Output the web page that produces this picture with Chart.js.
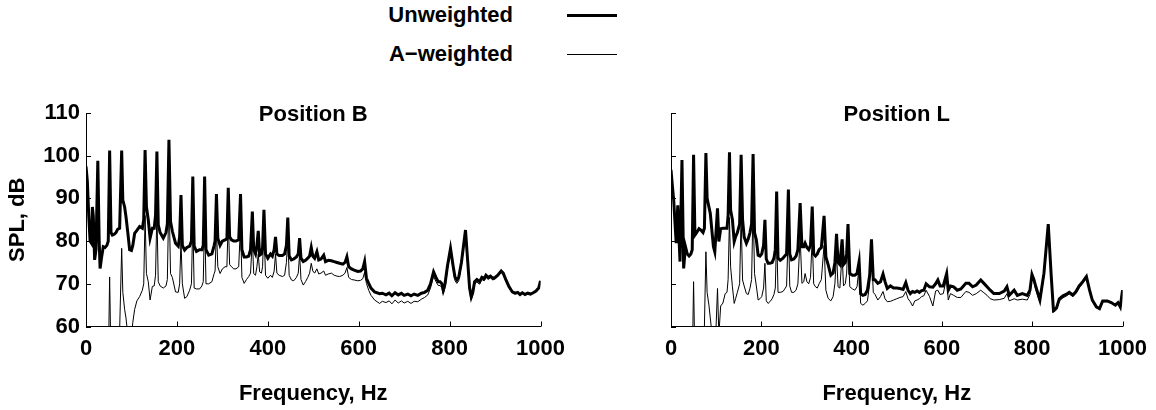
<!DOCTYPE html>
<html>
<head>
<meta charset="utf-8">
<script src="https://cdn.jsdelivr.net/npm/chart.js@4.4.1/dist/chart.umd.min.js"></script>
<style>
  html, body { margin: 0; padding: 0; background: #fff; }
  body { width: 1156px; height: 410px; position: relative; overflow: hidden;
         font-family: "Liberation Sans", Arial, sans-serif; font-weight: bold; font-size: 22px; color: #000; }
  canvas { position: absolute; top: 0; }
  #chartB { left: 0; }
  #chartL { left: 580px; }
  .leg-text { position: absolute; left: 0; width: 513px; text-align: right; line-height: 26px; }
  .leg-line { position: absolute; left: 567px; width: 50px; background: #000; }
</style>
</head>
<body>
<div class="leg-text" style="top:2px">Unweighted</div>
<div class="leg-line" style="top:14px;height:3px"></div>
<div class="leg-text" style="top:41px">A−weighted</div>
<div class="leg-line" style="top:54px;height:1px"></div>
<canvas id="chartB" width="580" height="410"></canvas>
<canvas id="chartL" width="576" height="410"></canvas>
<script>
// ---- tick values ----
const xTickValues = [0, 200, 400, 600, 800, 1000];
const yTickValues = [60, 70, 80, 90, 100, 110];

// ---- Position B ----
const freqB = [
  0, 3, 6, 9, 12, 14, 16, 19, 22, 26,
  29, 31, 34, 38, 42, 46, 49, 52, 55, 58,
  62, 66, 70, 74, 78.5, 81, 85, 88, 92, 96,
  100, 103, 107, 112, 118, 124, 127, 130, 133, 137,
  141, 146, 150, 153, 156, 159, 163, 170, 176, 179,
  182.5, 186, 190, 197, 203, 206, 209, 212, 217, 222,
  228, 232, 235, 238, 243, 250, 255, 258, 261, 264,
  270, 277, 282, 284, 287, 290, 295, 300, 306, 310,
  313, 316, 320, 325, 330, 336, 340, 343, 348, 353,
  358, 362, 366, 369, 373, 376, 379, 382, 386, 388.5,
  391.5, 395, 400, 406, 410, 414, 417, 420, 425, 432,
  437, 441, 444, 447, 452, 457, 463, 467, 470, 473,
  478, 483, 488, 492, 495.6, 499, 503, 508, 512, 517,
  523, 527, 533, 540, 546, 552, 558, 565, 570, 574,
  578, 584, 590, 598, 604, 609, 613, 617, 622, 627,
  635, 646, 652, 660, 667, 673, 680, 687, 694, 700,
  708, 715, 722, 730, 738, 745, 752, 758, 764.7, 770,
  775, 779, 783, 786, 790, 795, 802, 808, 812, 816,
  820, 826, 835, 840, 844, 847.6, 851, 855, 860, 866,
  871, 876, 880, 885, 890, 895, 900, 906, 913.5, 918,
  924, 930, 938, 944, 950, 955, 960, 966, 972, 978,
  984, 990, 996, 1000
];
const unweightedB = [
  97.5, 94, 86, 80, 79.5, 88, 86, 75.6, 78, 98.8,
  80, 73.6, 76, 78.7, 78.5, 79, 80, 101.2, 82, 81.4,
  81.6, 82, 82.8, 83, 101.2, 89.6, 88, 85.7, 82, 78,
  77.8, 79, 81.8, 82.5, 83.4, 83, 85, 101.3, 88, 85,
  80.7, 83, 83, 86, 101, 83.8, 82, 80.7, 82, 84,
  103.7, 84.6, 82.3, 79.5, 78.8, 81, 90.8, 79, 77.9, 78.5,
  78.8, 80, 95.1, 78.8, 77.6, 78, 78, 79, 95.1, 78,
  76.7, 77, 79, 80, 91, 80.7, 79, 80, 80.3, 80.5,
  92.5, 81, 80.3, 80, 80, 80.3, 91, 78, 76.3, 76.3,
  76.5, 78, 86.9, 78, 77, 79, 82.4, 76.7, 77, 78.5,
  87.3, 77, 76, 77, 76.5, 78, 81, 77, 76.6, 76.6,
  77, 79, 85.5, 76.5, 75.6, 75.8, 76.3, 77, 80.7, 76,
  75.2, 75.5, 76, 76.5, 78.5, 76.5, 76, 77.5, 75.6, 75.8,
  76.7, 75.2, 75.5, 75.4, 75.2, 75, 74.8, 74.6, 75, 76.3,
  74, 73.5, 73.2, 72.9, 73, 73.5, 75.2, 71.3, 70.1, 69,
  68.1, 67.7, 67.8, 67.4, 67.8, 67.2, 67.9, 67.4, 67.8, 67.3,
  67.6, 67.2, 67.6, 67.3, 67.8, 68, 68.5, 70, 72.8, 71.5,
  70.5, 70.5, 70, 68.5, 70, 74, 78.3, 74, 71.5, 70.9,
  71.5, 75, 82.6, 75, 69, 66.9, 68, 70.5, 71, 70.5,
  71.5, 71.2, 72, 71.5, 71.8, 71.3, 71.5, 72, 73, 72.5,
  70.9, 69.5, 68.1, 67.8, 68, 67.5, 67.9, 67.5, 67.8, 67.6,
  67.9, 68.3, 69, 70.7
];
const aWeightedB = [
  40, 40, 40, 40, 40, 40, 40, 40, 40, 54,
  40, 38, 40, 44, 46, 48, 50, 71.6, 52, 53,
  55, 56, 58, 59, 78.3, 68, 64, 62, 58, 55,
  58, 61, 64, 66, 67, 68.5, 70, 86, 72.4, 70.5,
  66.2, 69.4, 69.5, 72, 87, 70.5, 69.5, 69, 69.5, 71,
  91.5, 72.4, 71.5, 68.1, 68, 70, 80, 70, 66.6, 67,
  68.5, 70, 85, 69, 68.8, 68.8, 69.5, 70.5, 86, 70,
  70, 70.5, 72.4, 73, 83, 74, 72.4, 73.5, 74, 74,
  85, 74.5, 74, 73.5, 73.5, 74, 84, 71.5, 70.1, 71,
  71.7, 72.5, 80.5, 72.4, 72, 74, 77, 72.8, 72.5, 74,
  83, 72, 71.3, 72, 71.5, 73, 77, 72.5, 72, 71.7,
  72, 75, 81, 72, 70.9, 70.7, 71.5, 72.5, 77, 71,
  69.7, 70.5, 71.5, 72.5, 74.8, 73, 72.5, 73.5, 72.3, 72.5,
  73, 72, 72.3, 72.5, 72, 71.8, 71.7, 72, 72.5, 73.8,
  71.5, 71, 70.9, 70.7, 70.8, 71.2, 72.7, 70.1, 68.5, 67.3,
  66.2, 65.4, 65.9, 65.6, 66, 65.3, 66.2, 65.5, 66, 65.5,
  65.9, 65.4, 65.9, 65.8, 66.4, 66.8, 67.4, 69, 71.8, 70.5,
  69.6, 69.6, 69.1, 67.6, 69.1, 73.1, 77.5, 73.2, 70.7, 70.1,
  70.7, 74.3, 81.9, 74.3, 68.3, 66.2, 67.4, 69.9, 70.4, 69.9,
  71, 70.7, 71.5, 71, 71.4, 70.9, 71.1, 71.7, 72.7, 72.2,
  70.6, 69.3, 67.9, 67.6, 67.8, 67.3, 67.7, 67.4, 67.7, 67.5,
  67.8, 68.2, 68.9, 70.7
];

// ---- Position L ----
const freqL = [
  0, 3, 6, 9, 11.5, 15, 18, 20, 24.3, 28,
  32, 36, 40, 44, 47, 50, 53, 57, 62, 67,
  71, 74, 77.3, 80, 84, 87, 91, 94, 97, 103,
  106, 110, 115, 120, 124, 126.5, 129.5, 132, 136, 140,
  143, 147, 152, 155.3, 158.5, 162, 167, 171, 175, 178.5,
  181.8, 185, 189, 193, 197, 201, 205, 208, 211, 215,
  219, 224, 228, 231, 234, 237, 242, 248, 252, 256,
  260, 263, 267, 272, 277, 281, 286, 290, 294, 297,
  301, 305, 309, 312.8, 316, 320, 324, 328, 333, 339,
  343, 348, 354, 359, 363, 366.6, 370, 374, 379, 382,
  386, 389, 392, 396, 402, 407, 412, 416.6, 420, 425,
  430, 435, 440, 444, 448, 452, 458, 464, 469.6, 474,
  479, 486, 493, 500, 507, 514, 520, 525, 530, 535,
  540, 545, 550, 555, 560, 565, 572.6, 580, 586, 591,
  596, 603, 610.5, 614, 619, 626, 634, 642, 653, 660,
  668, 676, 686, 693, 700, 707, 715, 727, 738, 744,
  749, 760, 767, 778, 789, 795, 799.4, 804, 808, 817,
  826, 835.5, 842, 847, 854, 860, 868, 875, 882, 890,
  897, 904, 912, 920, 927, 933, 942, 949, 956, 966,
  975, 984, 990, 995, 1000
];
const unweightedL = [
  96.7, 93, 89.6, 84, 79.5, 88.4, 80, 75.2, 99, 73.6,
  78.7, 77, 76.5, 77, 78, 100.2, 81.4, 82, 82.9, 82.5,
  82, 83, 100.6, 90, 88, 86.5, 82, 78.7, 77.5, 87.7,
  79.9, 82.9, 83, 83, 83, 86, 100.8, 87.3, 85, 79.9,
  81, 82, 84, 100.2, 85, 81, 79.5, 80.5, 82, 84,
  100.4, 82, 80.3, 76.7, 76.5, 77, 79, 85, 75.8, 74.8,
  74.8, 75, 76, 78, 91.6, 76, 75.5, 76, 76.5, 77,
  92.1, 77, 75.6, 75.8, 76.5, 78, 88.9, 78.7, 78.7, 79.5,
  78.5, 78, 79, 88.1, 77, 76.5, 77, 78, 78.5, 85.9,
  76.3, 74.5, 72, 72.5, 75, 81.7, 75, 74.5, 80.4, 74.5,
  75, 77, 84, 72.4, 72, 72, 72.4, 75.2, 67.7, 67.3,
  67.5, 68.5, 72, 80.4, 71, 70.9, 70.1, 70.5, 72.3, 70.5,
  68.9, 69.5, 69, 69, 68.9, 68.7, 70.3, 68.5, 67.7, 68.2,
  68, 68.3, 68, 68.4, 68.5, 70, 69.3, 69.2, 70, 70.9,
  69.5, 69.5, 72.4, 68.5, 69.5, 69.3, 68.5, 68.8, 70.1, 70.1,
  69.3, 69.7, 70.9, 70.1, 69.3, 68.5, 67.7, 67.7, 68.3, 69.3,
  67.3, 68.5, 67.3, 67.7, 67.3, 68.5, 72.2, 70.9, 69.3, 66.2,
  72.5, 84, 72, 63.8, 64.4, 66.5, 67.2, 67.5, 68, 67.4,
  68.2, 69.5, 70.5, 71.7, 68.5, 66.2, 64.6, 64.2, 66, 66,
  65.6, 65, 65.6, 64.6, 68.5
];
const aWeightedL = [
  40, 40, 40, 40, 40, 40, 40, 40, 54, 38,
  42, 44, 46, 48, 50, 70.5, 52, 53, 55, 56,
  58, 60, 77.5, 68, 65, 62, 58, 55, 52, 68.9,
  58, 64.8, 65.5, 67.7, 68, 71, 85.5, 74, 69.3, 65.4,
  66.5, 68, 70, 86, 70.9, 69.5, 67.7, 67.5, 69, 71,
  89, 72.4, 69.5, 66.2, 66.5, 67, 69, 74.8, 66, 65.4,
  65.8, 66.5, 67.5, 69, 82, 68, 68, 68.2, 68.8, 69.5,
  83.5, 69.5, 68, 68, 68.5, 70, 81, 70.1, 70.5, 72.4,
  70.5, 70, 71.5, 81, 70, 69.3, 69, 70, 71, 79,
  68.5, 66.6, 66, 67, 70, 77, 69.3, 69, 77, 69.5,
  70, 72.5, 80, 69.3, 68.8, 68.5, 69.3, 74, 65.4, 65,
  65.4, 66, 70, 77.5, 68, 67.5, 66.2, 67, 68.2, 66.5,
  65.8, 65.9, 66.2, 66.5, 66.8, 67, 68.2, 66.5, 65.8, 64.8,
  66, 66.2, 66.5, 67, 67.2, 68.5, 67, 64.8, 68.3, 68.5,
  67.5, 67.7, 71.5, 66.2, 67.7, 67.3, 66.8, 66.8, 68.2, 68,
  67.3, 67.7, 68.5, 67.9, 67.3, 66.5, 66.2, 66.3, 66.6, 67.7,
  66, 66.5, 66.2, 66.4, 66.2, 67.5, 71.5, 70.3, 68.6, 65.6,
  71.8, 83.3, 71.4, 63.3, 63.9, 66, 66.7, 67.1, 67.6, 67,
  67.8, 69.1, 70.1, 71.4, 68.2, 65.9, 64.4, 64, 65.8, 65.8,
  65.5, 64.9, 65.5, 64.5, 68.5
];

const FONT = "'Liberation Sans', Arial, Helvetica, sans-serif";
Chart.defaults.font.family = FONT;
Chart.defaults.font.size = 22;
Chart.defaults.font.weight = "bold";
Chart.defaults.color = "#000";

// inward tick marks + title inside the top of the plot
const panelDecor = {
    id: "panelDecor",
    afterDraw(chart, args, opts) {
        const { ctx, chartArea: a, scales: { x, y } } = chart;
        ctx.save();
        ctx.strokeStyle = "#000";
        ctx.lineWidth = 1;
        ctx.beginPath();
        xTickValues.forEach((v) => {
            const px = Math.round(x.getPixelForValue(v)) + 0.5;
            ctx.moveTo(px, a.bottom);
            ctx.lineTo(px, a.bottom - 5);
        });
        yTickValues.forEach((v) => {
            const py = Math.round(y.getPixelForValue(v)) + 0.5;
            ctx.moveTo(a.left, py);
            ctx.lineTo(a.left + 5, py);
        });
        ctx.stroke();

        ctx.fillStyle = "#000";
        ctx.font = "bold 22px " + FONT;
        ctx.textAlign = "center";
        ctx.textBaseline = "middle";
        ctx.fillText(opts.text, (a.left + a.right) / 2, 115);
        ctx.restore();
    },
};

function toPoints(freq, vals) {
    return freq.map((f, i) => ({ x: f, y: vals[i] }));
}

function makeChart(id, title, freq, unw, aw, axisWidth, padRight, showY) {
    return new Chart(document.getElementById(id), {
        type: "line",
        data: {
            datasets: [
                {
                    label: "Unweighted",
                    data: toPoints(freq, unw),
                    borderColor: "#000",
                    borderWidth: 3,
                    pointRadius: 0,
                    tension: 0,
                },
                {
                    label: "A−weighted",
                    data: toPoints(freq, aw),
                    borderColor: "#000",
                    borderWidth: 1,
                    pointRadius: 0,
                    tension: 0,
                },
            ],
        },
        options: {
            responsive: false,
            devicePixelRatio: 1,
            animation: false,
            events: [],
            layout: { padding: { top: 113, right: padRight, bottom: 0, left: 0 } },
            plugins: {
                legend: { display: false },
                tooltip: { enabled: false },
                panelDecor: { text: title },
            },
            scales: {
                x: {
                    type: "linear",
                    min: 0,
                    max: 1000,
                    afterBuildTicks: (s) => { s.ticks = xTickValues.map((v) => ({ value: v })); },
                    afterFit: (s) => { s.height = 83.5; },
                    grid: { display: true, drawOnChartArea: false, drawTicks: false },
                    border: { display: true, color: "#000", width: 1 },
                    ticks: { padding: 9, maxRotation: 0, autoSkip: false, callback: (v) => String(v) },
                    title: { display: true, text: "Frequency, Hz", padding: { top: 0, bottom: 3 } },
                },
                y: {
                    type: "linear",
                    min: 60,
                    max: 110,
                    afterBuildTicks: (s) => { s.ticks = yTickValues.map((v) => ({ value: v })); },
                    afterFit: (s) => { s.width = axisWidth; },
                    grid: { display: true, drawOnChartArea: false, drawTicks: false },
                    border: { display: true, color: "#000", width: 1 },
                    ticks: { display: showY, padding: 6, callback: (v) => String(v) },
                    title: { display: showY, text: "SPL, dB", padding: { top: 5, bottom: 0 } },
                },
            },
        },
        plugins: [panelDecor],
    });
}

makeChart("chartB", "Position B", freqB, unweightedB, aWeightedB, 86, 39.5, true);
makeChart("chartL", "Position L", freqL, unweightedL, aWeightedL, 91, 32.5, false);
</script>
</body>
</html>
